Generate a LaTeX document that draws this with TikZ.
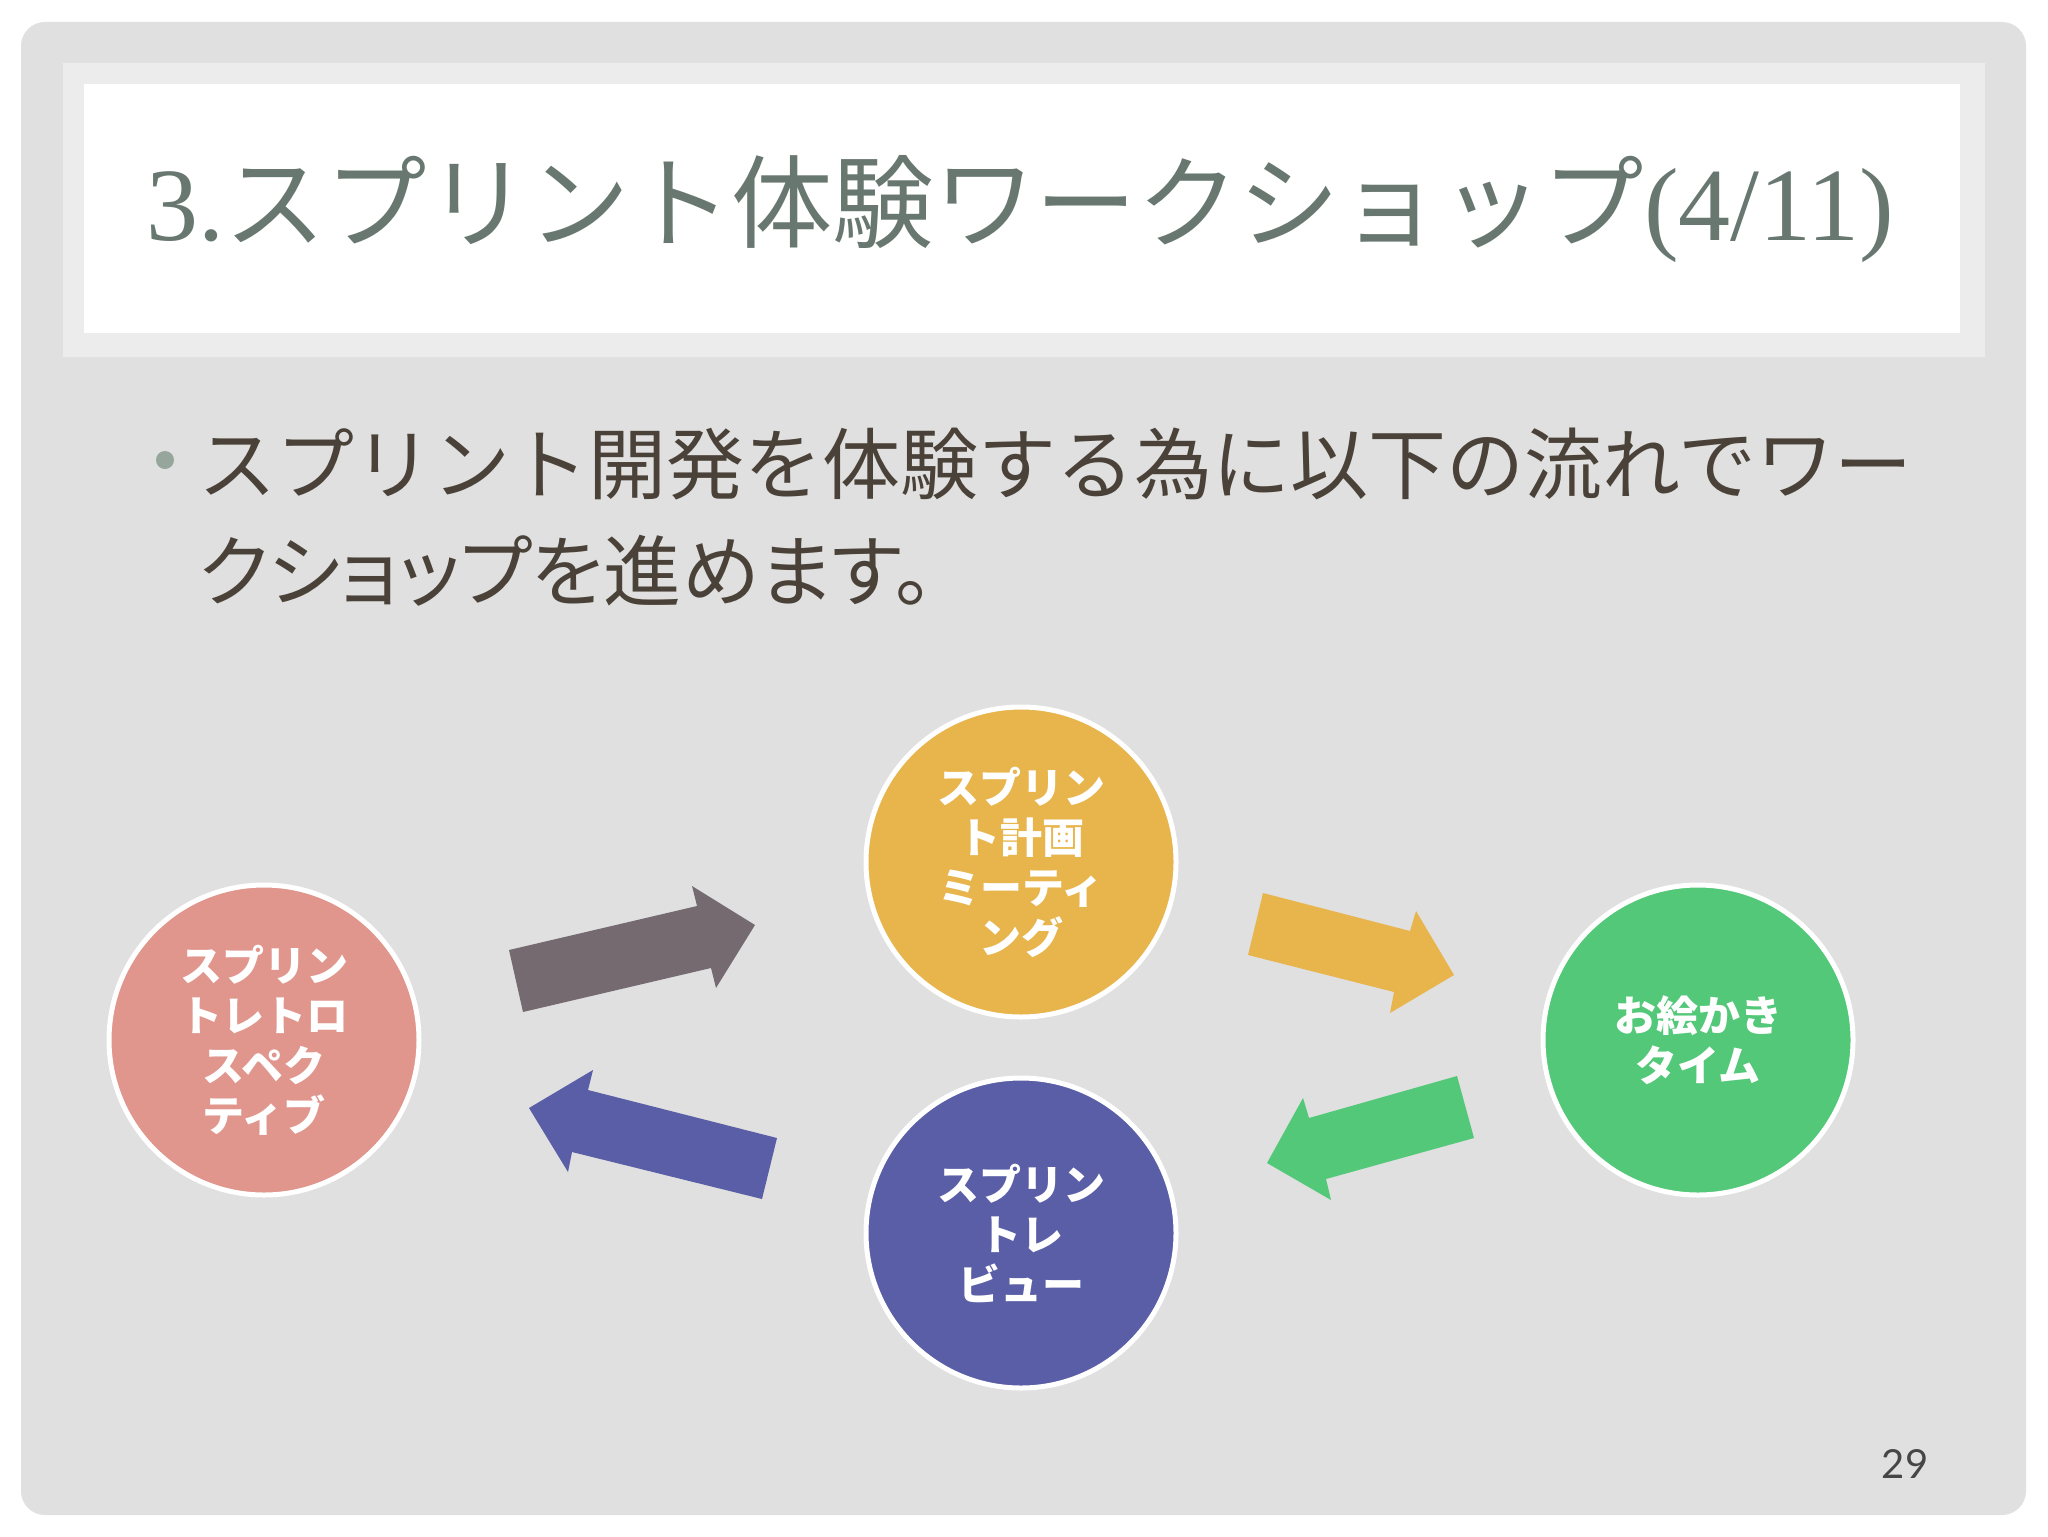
\documentclass[tikz,border=0pt]{standalone}
\usepackage{fontspec}
\setmainfont{Liberation Serif}
\newfontfamily\cjk{Noto Sans CJK JP}
\newfontfamily\cjkp[RawFeature=+palt]{Noto Sans CJK JP}
\newfontfamily\numfont{Lato}
\definecolor{slidebg}{RGB}{224,224,225}
\definecolor{bandbg}{RGB}{236,236,236}
\definecolor{titlecol}{RGB}{104,120,112}
\definecolor{bodycol}{RGB}{74,66,56}
\definecolor{bulletcol}{RGB}{150,166,156}
\definecolor{pinkc}{RGB}{224,150,140}
\definecolor{orangec}{RGB}{232,180,76}
\definecolor{greenc}{RGB}{82,200,120}
\definecolor{bluec}{RGB}{90,94,166}
\definecolor{grayarrow}{RGB}{117,106,112}
\definecolor{numcol}{RGB}{70,70,70}
\begin{document}
\begin{tikzpicture}[x=0.5pt,y=-0.5pt,
  circ/.style={circle, draw=white, line width=2.5pt, minimum size=155pt, inner sep=0pt,
    text=white, font=\cjk\bfseries\fontsize{21}{25}\selectfont, align=center},
  bodytext/.style={anchor=west, inner sep=0pt, text=bodycol}]
\useasboundingbox (0,0) rectangle (2048,1536);
\fill[white] (0,0) rectangle (2048,1536);
\fill[slidebg, rounded corners=12pt] (21,22) rectangle (2026,1515);
\fill[bandbg] (63,63) rectangle (1985,357);
\fill[white] (84,84) rectangle (1960,333);
% title
\node[anchor=west, inner sep=0pt, text=titlecol] (title) at (146,209)
  {\fontsize{52}{60}\selectfont 3.{\cjk\fontsize{50.7}{60}\selectfont スプリント体験ワークショップ}(4/11)};
% bullet + body
\fill[bulletcol] (165,460) circle (9);
\node[bodytext, font=\cjk\fontsize{39}{50}\selectfont] (line1) at (198,464)
  {スプリント開発を体験する為に以下の流れでワー};
\node[bodytext, font=\cjkp\fontsize{39}{50}\selectfont] (line2) at (198,571)
  {クショップを進めます。};
% circles
\node[circ, fill=pinkc] (retro) at (264,1040) {スプリン\\トレトロ\\スペク\\ティブ};
\node[circ, fill=orangec] (plan) at (1021,862) {スプリン\\ト計画\\ミーティ\\ング};
\node[circ, fill=greenc] (paint) at (1698,1040) {お絵かき\\タイム};
\node[circ, fill=bluec] (review) at (1021,1233) {スプリン\\トレ\\ビュー};
% block arrows
\fill[grayarrow] (509,950) -- (697,906) -- (692,886) -- (755,925) -- (716,988) -- (711,968) -- (523,1012) -- cycle;
\fill[orangec] (1263,893) -- (1410,931) -- (1416,911) -- (1454,975) -- (1390,1013) -- (1394,992) -- (1248,955) -- cycle;
\fill[greenc] (1457,1076) -- (1474,1138) -- (1326,1179) -- (1331,1200) -- (1267,1163) -- (1303,1098) -- (1309,1118) -- cycle;
\fill[bluec] (529,1108) -- (593,1070) -- (588,1090) -- (777,1138) -- (762,1199) -- (572,1152) -- (568,1172) -- cycle;
% page number
\node[text=numcol, font=\numfont\fontsize{20}{24}\selectfont, inner sep=0pt] (pnum) at (1905,1464) {29};
\end{tikzpicture}
\end{document}
